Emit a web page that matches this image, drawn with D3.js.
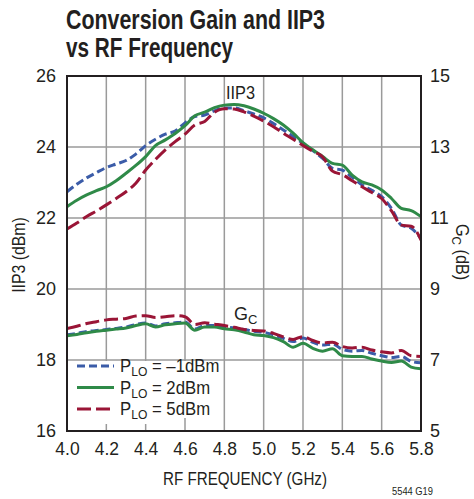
<!DOCTYPE html>
<html><head><meta charset="utf-8">
<script src="https://cdn.jsdelivr.net/npm/d3@7"></script>
<style>
html,body{margin:0;padding:0;background:#fff;}
text{font-family:"Liberation Sans",Arial,sans-serif;fill:#231f20;}
</style></head>
<body><svg id="c" width="474" height="499"></svg>
<script>
const freq = [4.00,4.05,4.10,4.15,4.20,4.25,4.30,4.35,4.40,4.45,4.50,4.55,4.60,4.65,4.70,4.75,4.80,4.85,4.90,4.95,5.00,5.05,5.10,5.15,5.20,5.25,5.30,5.35,5.40,5.45,5.50,5.55,5.60,5.65,5.70,5.75,5.80];
const iip3_m1 = [22.74,22.95,23.13,23.28,23.42,23.52,23.62,23.80,24.04,24.22,24.36,24.45,24.68,24.86,24.90,25.02,25.10,25.10,25.02,24.93,24.82,24.66,24.48,24.30,24.10,23.90,23.68,23.40,23.35,23.15,22.93,22.78,22.60,22.27,21.80,21.71,21.43];
const iip3_2 = [22.32,22.50,22.65,22.77,22.88,23.05,23.26,23.48,23.73,24.04,24.20,24.38,24.60,24.88,24.98,25.11,25.18,25.20,25.16,25.07,24.95,24.80,24.62,24.39,24.12,23.92,23.73,23.54,23.49,23.21,23.02,22.93,22.79,22.55,22.27,22.21,22.04];
const iip3_5 = [21.69,21.86,22.04,22.20,22.37,22.55,22.74,22.98,23.35,23.65,23.92,24.15,24.36,24.62,24.72,24.98,25.08,25.07,24.99,24.87,24.73,24.57,24.39,24.22,24.04,23.88,23.72,23.32,23.22,23.05,22.88,22.72,22.55,22.20,21.80,21.77,21.38];
const gc_m1 = [7.71,7.75,7.80,7.83,7.86,7.89,7.93,8.00,8.04,7.96,8.02,8.05,8.07,7.87,7.97,7.97,7.93,7.90,7.86,7.81,7.78,7.71,7.61,7.52,7.62,7.50,7.42,7.45,7.30,7.25,7.27,7.19,7.12,7.07,7.10,6.96,6.92];
const gc_2 = [7.68,7.72,7.77,7.81,7.84,7.87,7.90,7.97,8.02,7.93,7.99,8.02,8.04,7.84,7.93,7.93,7.88,7.85,7.79,7.71,7.69,7.63,7.52,7.36,7.47,7.33,7.25,7.32,7.12,7.10,7.10,7.03,6.97,6.93,6.97,6.80,6.75];
const gc_5 = [7.89,7.95,8.03,8.08,8.13,8.15,8.17,8.24,8.25,8.20,8.22,8.25,8.22,8.00,8.05,8.01,7.97,7.92,7.86,7.83,7.82,7.75,7.65,7.58,7.66,7.55,7.48,7.50,7.38,7.34,7.36,7.28,7.23,7.20,7.27,7.12,7.10];
const xTicks = [4.0,4.2,4.4,4.6,4.8,5.0,5.2,5.4,5.6,5.8];
const yLeftTicks = [16,18,20,22,24,26];
const yRightTicks = [5,7,9,11,13,15];
const seriesNames = ["\u20131dBm","2dBm","5dBm"];
const seriesColors = ["#3b5ca8","#2f8a48","#9a1536"];
const seriesDash = ["8,4","none","14,5"];

const svg = d3.select("#c");
const L=67, R=421, T=76, B=431;
const x = d3.scaleLinear().domain([4.0,5.8]).range([L,R]);
const yL = d3.scaleLinear().domain([16,26]).range([B,T]);
const yR = d3.scaleLinear().domain([5,15]).range([B,T]);

// title
svg.append("text").attr("x",66).attr("y",29).attr("font-size",27.5).attr("font-weight","bold")
  .attr("textLength",259).attr("lengthAdjust","spacingAndGlyphs").text("Conversion Gain and IIP3");
svg.append("text").attr("x",66).attr("y",57).attr("font-size",27.5).attr("font-weight","bold")
  .attr("textLength",167).attr("lengthAdjust","spacingAndGlyphs").text("vs RF Frequency");

// grid
const g = svg.append("g");
g.selectAll("line.v").data(xTicks.slice(1,-1)).enter().append("line")
  .attr("x1",d=>x(d)).attr("x2",d=>x(d)).attr("y1",T).attr("y2",B)
  .attr("stroke","#9a9a9a").attr("stroke-width",1.5);
g.selectAll("line.h").data(yLeftTicks.slice(1,-1)).enter().append("line")
  .attr("x1",L).attr("x2",R).attr("y1",d=>yL(d)).attr("y2",d=>yL(d))
  .attr("stroke","#9a9a9a").attr("stroke-width",1.5);

// axes tick labels via d3 axes
const axB = d3.axisBottom(x).tickValues(xTicks).tickFormat(d3.format(".1f")).tickSize(0).tickPadding(12);
const ab = svg.append("g").attr("transform",`translate(0,${B})`).call(axB);
const axLf = d3.axisLeft(yL).tickValues(yLeftTicks).tickFormat(d3.format("d")).tickSize(0).tickPadding(11);
const al = svg.append("g").attr("transform",`translate(${L},0)`).call(axLf);
const axRt = d3.axisRight(yR).tickValues(yRightTicks).tickFormat(d3.format("d")).tickSize(0).tickPadding(9);
const ar = svg.append("g").attr("transform",`translate(${R},0)`).call(axRt);
[ab,al,ar].forEach(a=>{a.select(".domain").remove();a.selectAll("text").attr("font-size",18).attr("fill","#231f20")
  .attr("font-family",'"Liberation Sans",Arial,sans-serif');});
ab.selectAll("text").attr("font-size",17.5);

// lines
const lineL = d3.line().x((d,i)=>x(freq[i])).y(d=>yL(d)).curve(d3.curveMonotoneX);
const lineR = d3.line().x((d,i)=>x(freq[i])).y(d=>yR(d)).curve(d3.curveMonotoneX);
const iip = [iip3_m1,iip3_2,iip3_5];
const gcs = [gc_m1,gc_2,gc_5];
svg.append("clipPath").attr("id","pc").append("rect").attr("x",L).attr("y",T).attr("width",R-L).attr("height",B-T);
const lg = svg.append("g").attr("clip-path","url(#pc)");
[0,1,2].forEach(i=>{
  lg.append("path").attr("d",lineR(gcs[i])).attr("fill","none").attr("stroke",seriesColors[i])
    .attr("stroke-width",3).attr("stroke-dasharray",seriesDash[i]);
});
[0,1,2].forEach(i=>{
  lg.append("path").attr("d",lineL(iip[i])).attr("fill","none").attr("stroke",seriesColors[i])
    .attr("stroke-width",3).attr("stroke-dasharray",seriesDash[i]);
});

// legend
svg.append("rect").attr("x",L+1).attr("y",yL(18)+1).attr("width",x(4.6)-L-3).attr("height",B-yL(18)-8).attr("fill","#fff");
svg.append("rect").attr("x",x(4.6)-3).attr("y",yL(18)+1).attr("width",x(4.8)-x(4.6)).attr("height",57).attr("fill","#fff");
const legY = [366,387.5,409];
[0,1,2].forEach(i=>{
  svg.append("line").attr("x1",77).attr("x2",114).attr("y1",legY[i]).attr("y2",legY[i])
    .attr("stroke",seriesColors[i]).attr("stroke-width",3).attr("stroke-dasharray",seriesDash[i]);
  const tx = svg.append("g").attr("transform",`translate(120,${legY[i]+6}) scale(0.93,1)`)
    .append("text").attr("x",0).attr("y",0).attr("font-size",18);
  tx.append("tspan").text("P");
  tx.append("tspan").attr("font-size",13).attr("dy",4).text("LO");
  tx.append("tspan").attr("dy",-4).text(" = "+seriesNames[i]);
});

// frame
svg.append("rect").attr("x",L).attr("y",T).attr("width",R-L).attr("height",B-T).attr("fill","none")
  .attr("stroke","#231f20").attr("stroke-width",2);

// curve labels
svg.append("text").attr("x",226).attr("y",99).attr("font-size",18).attr("textLength",29).attr("lengthAdjust","spacingAndGlyphs").text("IIP3");
const gcl = svg.append("text").attr("x",234).attr("y",320).attr("font-size",18);
gcl.append("tspan").text("G");
gcl.append("tspan").attr("font-size",13).attr("dy",4).text("C");

// axis titles
svg.append("g").attr("transform","translate(25,255) rotate(-90) scale(0.88,1)")
  .append("text").attr("text-anchor","middle").attr("font-size",18).text("IIP3 (dBm)");
const rt = svg.append("g").attr("transform","translate(456,252) rotate(90) scale(0.9,1)")
  .append("text").attr("text-anchor","middle").attr("font-size",18);
rt.append("tspan").text("G");
rt.append("tspan").attr("font-size",13).attr("dy",4).text("C");
rt.append("tspan").attr("dy",-4).text(" (dB)");
svg.append("text").attr("x",245).attr("y",485).attr("text-anchor","middle").attr("font-size",18)
  .attr("textLength",164).attr("lengthAdjust","spacingAndGlyphs").text("RF FREQUENCY (GHz)");
svg.append("text").attr("x",433).attr("y",495).attr("text-anchor","end").attr("font-size",10.5)
  .attr("textLength",41).attr("lengthAdjust","spacingAndGlyphs").text("5544 G19");
</script></body></html>
